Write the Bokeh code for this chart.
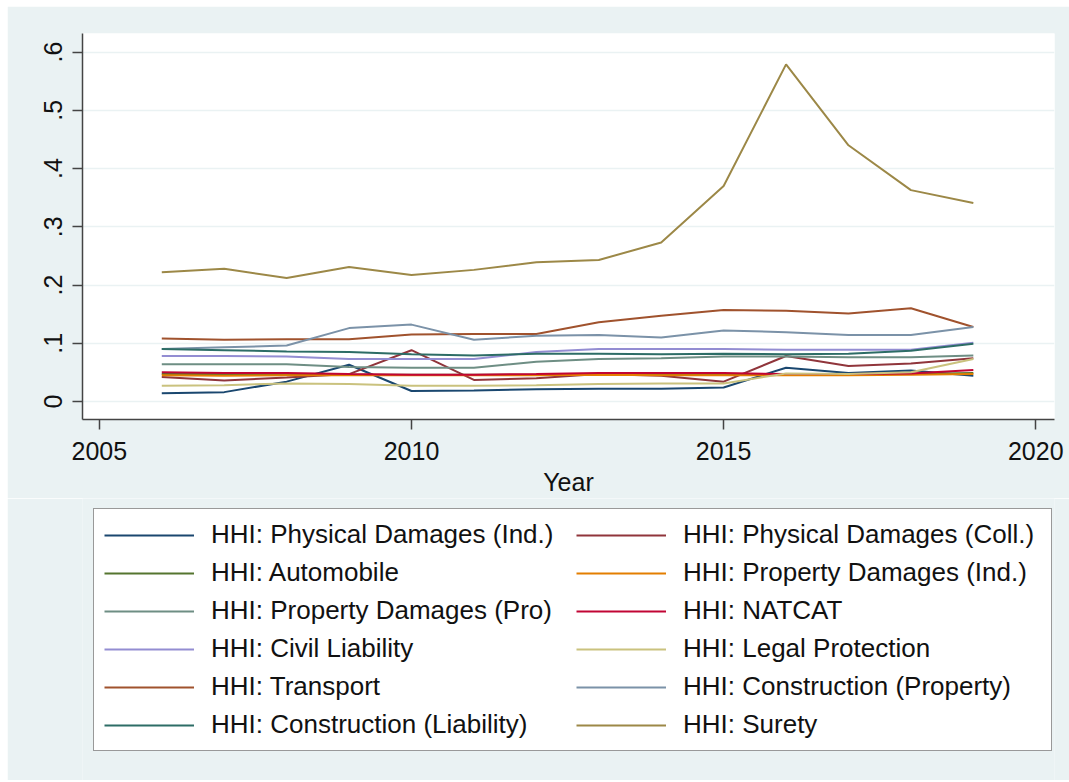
from bokeh.plotting import figure
from bokeh.layouts import column
from bokeh.models import Legend, LegendItem, FixedTicker, CustomJSTickFormatter, Range1d
from bokeh.embed import file_html
from bokeh.resources import INLINE

years = list(range(2006, 2020))
phys_ind = [.014, .016, .034, .063, .018, .019, .021, .022, .022, .024, .058, .049, .053, .044]
phys_coll = [.042, .036, .041, .047, .088, .037, .040, .047, .044, .034, .078, .061, .065, .074]
automobile = [.047, .047, .047, .046, .046, .046, .046, .047, .047, .047, .047, .047, .047, .049]
prop_ind = [.045, .044, .045, .045, .045, .045, .045, .046, .045, .045, .045, .045, .046, .047]
prop_pro = [.064, .064, .064, .059, .058, .058, .068, .073, .074, .077, .077, .076, .076, .079]
natcat = [.050, .049, .049, .047, .046, .046, .047, .049, .049, .049, .047, .047, .048, .054]
civil = [.078, .078, .077, .073, .073, .073, .085, .090, .090, .090, .089, .089, .089, .101]
legal = [.027, .028, .031, .030, .027, .027, .028, .030, .031, .031, .048, .047, .050, .073]
transport = [.108, .106, .107, .107, .115, .116, .116, .136, .147, .157, .156, .151, .160, .128]
constr_prop = [.090, .093, .096, .126, .132, .106, .113, .114, .110, .122, .119, .114, .114, .128]
constr_liab = [.090, .088, .086, .085, .081, .079, .082, .082, .081, .082, .081, .082, .087, .099]
surety = [.222, .228, .212, .231, .217, .226, .239, .243, .273, .370, .579, .440, .363, .341]

names = ["HHI: Physical Damages (Ind.)", "HHI: Physical Damages (Coll.)", "HHI: Automobile",
         "HHI: Property Damages (Ind.)", "HHI: Property Damages (Pro)", "HHI: NATCAT",
         "HHI: Civil Liability", "HHI: Legal Protection", "HHI: Transport",
         "HHI: Construction (Property)", "HHI: Construction (Liability)", "HHI: Surety"]
series = [phys_ind, phys_coll, automobile, prop_ind, prop_pro, natcat, civil, legal,
          transport, constr_prop, constr_liab, surety]
colors = ["#1a476f", "#90353b", "#55752f", "#e37e00", "#6e8e84", "#c10534",
          "#938dd2", "#cac27e", "#a0522d", "#7b92a8", "#2d6d66", "#9c8847"]

x_ticks = [2005, 2010, 2015, 2020]
y_ticks = [0, 0.1, 0.2, 0.3, 0.4, 0.5, 0.6]

FONT = "Liberation Sans"
BG = "#eaf2f3"
W = 1062

p = figure(width=W, height=492, output_backend="svg", toolbar_location=None,
           x_range=Range1d(2004.73, 2020.3), y_range=Range1d(-0.031, 0.632),
           min_border_left=75, min_border_top=27, min_border_right=15, min_border_bottom=75)
p.border_fill_color = BG
p.background_fill_color = "white"
p.outline_line_color = None

for s, c in zip(series, colors):
    p.line(years, s, line_color=c, line_width=2)

p.xaxis.ticker = FixedTicker(ticks=x_ticks)
p.yaxis.ticker = FixedTicker(ticks=y_ticks)
p.yaxis.formatter = CustomJSTickFormatter(code="""
    if (Math.abs(tick) < 1e-9) return "0";
    return tick.toFixed(1).replace(/^0/, "");
""")
p.yaxis.major_label_orientation = "vertical"
p.xaxis.axis_label = "Year"
for ax in (p.xaxis, p.yaxis):
    ax.major_label_text_font = FONT
    ax.major_label_text_font_size = "25px"
    ax.major_label_text_color = "#111111"
    ax.axis_label_text_font = FONT
    ax.axis_label_text_font_size = "25px"
    ax.axis_label_text_font_style = "normal"
    ax.axis_label_text_color = "#111111"
    ax.axis_line_color = "#444444"
    ax.axis_line_width = 1.5
    ax.major_tick_line_color = "#444444"
    ax.major_tick_line_width = 1.5
    ax.major_tick_out = 10
    ax.major_tick_in = 0
    ax.minor_tick_line_color = None
p.xaxis.major_label_standoff = 12
p.xaxis.axis_label_standoff = 5
p.yaxis.major_label_standoff = 10

p.xgrid.grid_line_color = None
p.ygrid.grid_line_color = BG
p.ygrid.grid_line_width = 1.5

# legend panel: same series, plotted outside the visible range so only the key shows
leg = figure(width=W, height=282, output_backend="svg", toolbar_location=None,
             x_range=Range1d(0, 1), y_range=Range1d(10, 11),
             x_axis_type=None, y_axis_type=None,
             min_border_left=0, min_border_right=0, min_border_top=0, min_border_bottom=0)
leg.border_fill_color = BG
leg.background_fill_color = BG
leg.outline_line_color = None
leg.grid.grid_line_color = None
leg_renderers = [leg.line(years, s, line_color=c, line_width=2) for s, c in zip(series, colors)]

# legend fills column by column: put left-column entries first
order = list(range(0, 12, 2)) + list(range(1, 12, 2))
items = [LegendItem(label=names[i], renderers=[leg_renderers[i]]) for i in order]
legend = Legend(items=items, ncols=2, location=(11, 29),
                label_text_font=FONT, label_text_font_size="26px", label_text_color="#111111",
                glyph_width=90, glyph_height=20, label_standoff=17, label_height=30,
                label_width=358, spacing=7, padding=10, margin=0,
                border_line_color="#333333", border_line_width=1.5,
                background_fill_color="white", background_fill_alpha=1.0)
leg.add_layout(legend, "center")

layout = column(p, leg, spacing=0, margin=(6, 0, 0, 7))

open("out.html", "w").write(file_html(layout, INLINE))
